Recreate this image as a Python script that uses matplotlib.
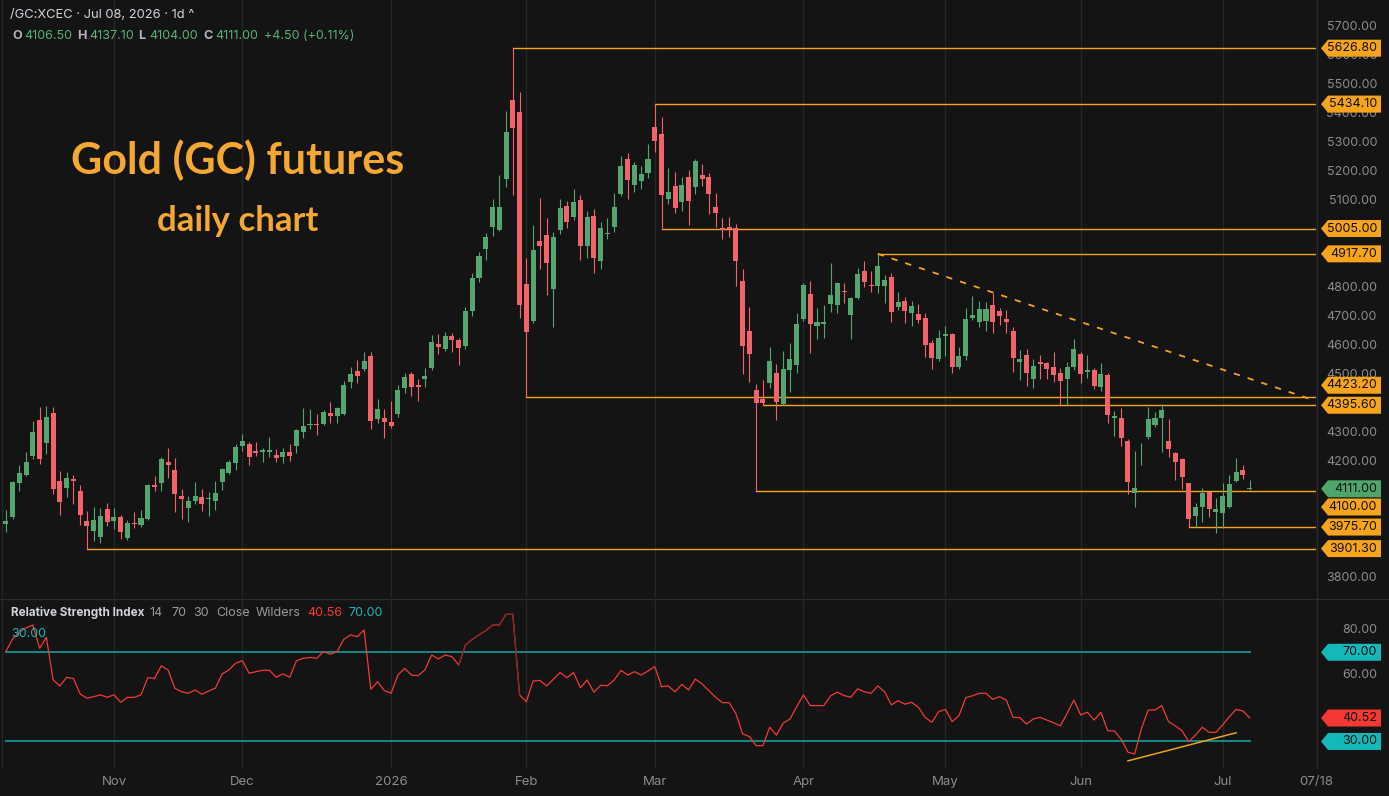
import numpy as np
import matplotlib
matplotlib.use("Agg")
import matplotlib.pyplot as plt
from matplotlib.patches import Polygon
from matplotlib.lines import Line2D

plt.rcParams["font.family"] = ["Inter", "DejaVu Sans"]

W, H = 1389, 796
BG = "#141414"
UP, DN = "#52a66e", "#f2636a"
ORANGE = "#f5a41c"
TEAL, TEAL_TAG = "#138b8b", "#14b8b8"

# ---- daily OHLC, Oct 2025 .. Jul 08 2026 (index = trading day) ----
opens = [3986, 4012, 4128, 4156, 4222, 4345, 4267, 4368, 4135, 4111, 4141, 4100, 3998, 3963, 3940, 4037,
         3998, 4012, 3937, 3991, 3983, 4003, 4121, 4128, 4201, 4172, 4083, 4043, 4066, 4078, 4073, 4066,
         4130, 4163, 4196, 4255, 4262, 4239, 4233, 4236, 4224, 4216, 4233, 4256, 4305, 4327, 4331, 4330,
         4369, 4360, 4366, 4477, 4514, 4520, 4566, 4347, 4351, 4337, 4366, 4454, 4503, 4466, 4486, 4525,
         4607, 4589, 4634, 4620, 4600, 4720, 4833, 4934, 5009, 5000, 5175, 5448, 5408, 4814, 4687, 4962,
         4983, 4797, 5000, 5083, 5044, 5103, 4946, 5048, 4894, 4987, 5011, 5124, 5245, 5155, 5170, 5198,
         5356, 5331, 5107, 5152, 5096, 5182, 5149, 5190, 5182, 5080, 5006, 5009, 5006, 4824, 4652, 4448,
         4417, 4471, 4506, 4400, 4517, 4534, 4693, 4779, 4670, 4675, 4744, 4741, 4789, 4707, 4767, 4860,
         4810, 4808, 4808, 4839, 4733, 4756, 4713, 4710, 4696, 4609, 4554, 4633, 4641, 4529, 4566, 4698,
         4681, 4687, 4741, 4721, 4693, 4652, 4544, 4569, 4485, 4544, 4540, 4529, 4506, 4485, 4527, 4572,
         4510, 4517, 4458, 4500, 4351, 4351, 4273, 4092, 4233, 4285, 4328, 4351, 4273, 4230, 4209, 4126,
         4015, 4044, 4096, 4029, 4023, 4046, 4136, 4172, 4106.5]
highs = [4034, 4135, 4189, 4233, 4342, 4389, 4394, 4389, 4170, 4167, 4155, 4121, 4031, 4044, 4040, 4058,
         4040, 4017, 4000, 4026, 4034, 4124, 4152, 4216, 4247, 4213, 4106, 4083, 4130, 4107, 4098, 4136,
         4178, 4206, 4261, 4297, 4270, 4270, 4249, 4287, 4245, 4247, 4263, 4314, 4385, 4381, 4366, 4379,
         4407, 4388, 4480, 4527, 4552, 4580, 4578, 4417, 4383, 4411, 4466, 4506, 4509, 4486, 4523, 4638,
         4641, 4649, 4644, 4626, 4735, 4850, 4925, 4989, 5106, 5190, 5411, 5626.8, 5477, 4902, 5017, 5111,
         5042, 4992, 5107, 5100, 5142, 5121, 5066, 5072, 5029, 5040, 5127, 5255, 5267, 5236, 5219, 5297,
         5434.1, 5389, 5215, 5199, 5182, 5207, 5245, 5227, 5196, 5129, 5040, 5046, 5020, 4866, 4736, 4470,
         4483, 4598, 4538, 4583, 4609, 4715, 4818, 4824, 4730, 4741, 4885, 4822, 4818, 4770, 4868, 4893,
         4859, 4917.7, 4845, 4851, 4787, 4768, 4755, 4744, 4715, 4621, 4655, 4669, 4646, 4596, 4730, 4773,
         4756, 4753, 4782, 4730, 4724, 4667, 4586, 4590, 4555, 4569, 4546, 4580, 4523, 4544, 4624, 4580,
         4569, 4523, 4540, 4506, 4376, 4385, 4278, 4238, 4265, 4389, 4373, 4400, 4348, 4236, 4213, 4128,
         4058, 4109, 4098, 4075, 4126, 4155, 4213, 4190, 4137.1]
lows = [3960, 4005, 4101, 4150, 4210, 4193, 4227, 4090, 4017, 4078, 4054, 3983, 3901.3, 3928, 3922, 3980,
        3969, 3934, 3931, 3971, 3977, 4000, 4100, 4101, 4146, 4029, 4003, 3994, 4054, 4032, 4015, 4034,
        4103, 4160, 4172, 4238, 4190, 4222, 4201, 4218, 4201, 4196, 4204, 4230, 4284, 4313, 4293, 4327,
        4334, 4334, 4363, 4454, 4471, 4515, 4313, 4336, 4281, 4316, 4354, 4437, 4429, 4411, 4460, 4517,
        4572, 4584, 4580, 4535, 4590, 4705, 4820, 4897, 4979, 4998, 5149, 5121, 4696, 4423.2, 4680, 4864,
        4776, 4667, 4985, 5008, 5035, 4897, 4905, 4851, 4864, 4968, 4994, 5117, 5106, 5132, 5140, 5180,
        5270, 5005, 5090, 5058, 5067, 5017, 5124, 5152, 5055, 5011, 4968, 4975, 4807, 4502, 4477, 4100,
        4395.6, 4456, 4345, 4397, 4443, 4508, 4686, 4577, 4623, 4629, 4718, 4715, 4749, 4623, 4761, 4805,
        4787, 4782, 4749, 4682, 4724, 4678, 4670, 4678, 4563, 4520, 4548, 4566, 4508, 4520, 4552, 4690,
        4667, 4653, 4644, 4672, 4646, 4512, 4483, 4463, 4454, 4485, 4485, 4477, 4397, 4395, 4517, 4474,
        4489, 4451, 4446, 4334, 4290, 4256, 4089, 4044, 4188, 4279, 4322, 4236, 4218, 4138, 4106, 3975.7,
        3977, 3994, 4012, 3954, 3971, 4040, 4132, 4140, 4104]
closes = [3998, 4131, 4161, 4199, 4302, 4210, 4356, 4106, 4063, 4144, 4135, 4017, 3980, 4000, 4014, 3994,
          4012, 3958, 3991, 3987, 4008, 4121, 4114, 4210, 4190, 4090, 4072, 4066, 4081, 4055, 4077, 4093,
          4176, 4199, 4253, 4273, 4218, 4230, 4241, 4241, 4215, 4233, 4222, 4310, 4325, 4332, 4328, 4371,
          4360, 4385, 4466, 4503, 4498, 4549, 4340, 4383, 4339, 4325, 4448, 4494, 4460, 4457, 4498, 4613,
          4596, 4634, 4621, 4592, 4720, 4833, 4910, 4977, 5080, 5080, 5337, 5351, 4741, 4649, 4931, 4946,
          4887, 4977, 5077, 5027, 5096, 4945, 5044, 4902, 5008, 4990, 5078, 5222, 5172, 5224, 5192, 5245,
          5308, 5121, 5130, 5075, 5154, 5101, 5238, 5176, 5123, 5058, 5000, 5003, 4894, 4601, 4571, 4405,
          4405, 4549, 4406, 4521, 4555, 4676, 4810, 4676, 4682, 4682, 4776, 4816, 4785, 4767, 4848, 4820,
          4806, 4877, 4827, 4716, 4753, 4721, 4738, 4690, 4604, 4558, 4627, 4640, 4529, 4566, 4692, 4707,
          4727, 4727, 4684, 4705, 4682, 4560, 4555, 4508, 4532, 4538, 4520, 4500, 4479, 4529, 4590, 4503,
          4517, 4463, 4503, 4362, 4360, 4284, 4130, 4112, 4236, 4348, 4353, 4379, 4244, 4201, 4147, 4004,
          4044, 4092, 4037, 4037, 4081, 4124, 4165, 4155, 4111]

# RSI(14) Wilders on close
rsi = [70.3, 76, 79, 81, 82.2, 71.8, 76.7, 57.6, 54.9, 58.8, 58.2, 51.3, 49.4, 50.1, 50.9, 49.8,
       50.9, 47.6, 49.8, 49.8, 50.9, 58.6, 58.3, 63.9, 62.1, 53.9, 52.3, 51.6, 53.1, 51.2, 52.6, 53.9,
       60.3, 62.1, 65.1, 66.2, 60.6, 61.3, 61.9, 61.9, 58.8, 60.3, 58.8, 66.2, 67.3, 67.7, 67.3, 70.3,
       69.1, 70.3, 75.8, 77.8, 77, 80, 53.4, 56.8, 52.8, 51.6, 59.8, 62.8, 59.8, 59.5, 62.1, 68.8,
       67, 68.8, 68, 64.3, 73.3, 75.8, 77.8, 79.7, 82.2, 82.2, 87, 87, 50.9, 47.8, 57.1, 57.4,
       54.9, 57.9, 60.9, 58.6, 60.9, 54.1, 57.6, 52.1, 55.2, 55, 57.6, 61.9, 59.8, 61.3, 59.8, 61.6,
       63.6, 54.6, 54.9, 52.3, 55.6, 53.1, 58, 55.8, 52.8, 49.8, 47.4, 47.4, 42.6, 33.4, 32.2, 28.1,
       28.1, 36.4, 32.9, 38.2, 40.1, 45.6, 50.9, 46.1, 46.1, 46.1, 50.4, 52.1, 50.6, 49.8, 53.6, 52.3,
       51.6, 54.9, 52.3, 46.4, 48.3, 46.7, 47.6, 45.3, 40.8, 38.6, 43.4, 44.4, 38.9, 41.6, 49.6, 50.5,
       51.6, 51.6, 48.9, 50.1, 48.6, 40.8, 40.7, 37.8, 40.1, 40.8, 39.6, 38.4, 37, 42.6, 48.6, 41.9,
       43.1, 39.6, 43.1, 34.8, 34.7, 31, 25.2, 24.4, 35.9, 44.1, 44.1, 46.1, 38.9, 37, 34.8, 29.9,
       32.9, 36.4, 34.1, 34.1, 37.4, 41.1, 44.4, 43.7, 40.6]

month_labels = ["Nov", "Dec", "2026", "Feb", "Mar", "Apr", "May", "Jun", "Jul"]
month_idx = [16, 35, 57, 77, 96, 118, 139, 159, 180]

# horizontal levels: (price, first bar index)
levels = [5626.8, 5434.1, 5005.0, 4917.7, 4423.2, 4395.6, 4100.0, 3975.7, 3901.3]
level_start = [75, 96, 97, 129, 77, 112, 111, 175, 12]
trend_idx, trend_px = [129, 194], [4917.7, 4409]
rsi_trend_idx, rsi_trend_val = [166, 182], [21.3, 33.9]
last_close, rsi_last = 4111.00, 40.52

n = len(closes)
idx = np.arange(n)
o, h, l, c = map(np.array, (opens, highs, lows, closes))

fig = plt.figure(figsize=(W / 100, H / 100), dpi=100, facecolor=BG)

def fx(x): return x / W
def fy(y): return 1 - y / H

PANE_R = 1316
ax = fig.add_axes([0, fy(598), fx(PANE_R), 598 / H])
axr = fig.add_axes([0, fy(768), fx(PANE_R), (768 - 600) / H])
for a in (ax, axr):
    a.set_facecolor(BG)
    for s in a.spines.values():
        s.set_visible(False)
    a.set_xticks([]); a.set_yticks([])
    a.set_xlim((0 - 5.8) / 6.76, (PANE_R - 5.8) / 6.76)
    for m in month_idx + [-0.6]:
        a.axvline(m, color="#262626", lw=1, zorder=0)
ax.set_ylim(3731, 5793)
axr.set_ylim(18.1, 93.45)

# candles
up = c >= o
cols = np.where(up, UP, DN)
ax.vlines(idx, l, h, colors=cols, lw=0.8, zorder=3)
body_lo = np.minimum(o, c)
body_h = np.maximum(np.abs(c - o), 3.0)
ax.bar(idx, body_h, bottom=body_lo, width=0.74, color=cols, linewidth=0, zorder=4)

# levels and trend line
for p, s in zip(levels, level_start):
    ax.plot([s, 300], [p, p], color=ORANGE, lw=1.0, zorder=2)
ax.plot(trend_idx, trend_px, color=ORANGE, lw=1.3, ls=(0, (3.5, 4.5)), zorder=2)

# RSI pane
axr.plot([0, n - 1], [70, 70], color=TEAL, lw=1.4, zorder=2)
axr.plot([0, n - 1], [30, 30], color=TEAL, lw=1.4, zorder=2)
axr.plot(idx, rsi, color="#f23a36", lw=0.9, zorder=3)
axr.plot(idx[67:77], rsi[67:77], color="#7c2626", lw=0.9, zorder=3)
axr.plot(rsi_trend_idx, rsi_trend_val, color="#e8a317", lw=1.1, zorder=3)

# separators
fig.add_artist(Line2D([0, 1], [fy(598.5)] * 2, color="#2b2b2b", lw=1))
fig.add_artist(Line2D([fx(PANE_R + 0.5)] * 2, [fy(768), 1], color="#2b2b2b", lw=1))

# price tags (pointed labels on the scale)
nudges = {4423.2: -12, 4100.0: 16}
tag_list = [(ax, p, f"{p:.2f}", ORANGE, nudges.get(p, 0)) for p in levels]
tag_list.append((ax, last_close, f"{last_close:.2f}", "#4ea66b", 1))
tag_list += [(axr, 70, "70.00", TEAL_TAG, 0), (axr, rsi_last, f"{rsi_last:.2f}", "#f23a32", 0),
             (axr, 30, "30.00", TEAL_TAG, 0)]
tag_y = [a.transData.transform((0, v))[1] - nd for a, v, _, _, nd in tag_list]

# price scale labels (those fully hidden under a tag are skipped)
def scale_label(a, v):
    yd = a.transData.transform((0, v))[1]
    if min(abs(yd - t) for t in tag_y) < 7.6:
        return
    fig.text(fx(1377), yd / H, f"{v:.2f}", ha="right", va="center", fontsize=9, color="#8c8c8c")

for p in range(3800, 5701, 100):
    scale_label(ax, p)
for v in (80, 60):
    scale_label(axr, v)

for (a, v, txt, fc, nd), yc in zip(tag_list, tag_y):
    hh = 8.5
    pts = [(1321, yc), (1328, yc + hh), (1381, yc + hh), (1381, yc - hh), (1328, yc - hh)]
    fig.add_artist(Polygon([(x / W, y / H) for x, y in pts], closed=True, transform=fig.transFigure,
                           facecolor=fc, edgecolor="none", zorder=10))
    fig.text(fx(1377), yc / H, txt, ha="right", va="center", fontsize=9, color="#111111", zorder=11)

# time axis
for lab, m in zip(month_labels, month_idx):
    xd = ax.transData.transform((m, 0))[0]
    fig.text(xd / W, fy(782), lab, ha="center", va="center", fontsize=9.5, color="#8c8c8c")
fig.text(fx(PANE_R), fy(782), "07/18", ha="center", va="center", fontsize=9.5, color="#8c8c8c")

# header
fig.text(fx(10), fy(15), "/GC:XCEC · Jul 08, 2026 · 1d ^", ha="left", va="center",
         fontsize=9.3, color="#d1d4dc")
GRN, GRY = "#5cb176", "#b2b5be"
for txt, x, col in [("O", 12, GRY), ("4106.50", 24, GRN), ("H", 77, GRY), ("4137.10", 89, GRN),
                    ("L", 138, GRY), ("4104.00", 149, GRN), ("C", 203, GRY), ("4111.00", 215, GRN),
                    ("+4.50 (+0.11%)", 264, GRN)]:
    fig.text(fx(x), fy(36), txt, ha="left", va="center", fontsize=9, color=col,
             fontweight="bold" if col == GRY else "normal")

fig.text(fx(11), fy(613), "Relative Strength Index", ha="left", va="center", fontsize=8.4,
         color="#d1d4dc", fontweight="bold")
for txt, x, col in [("14", 149, "#9a9a9a"), ("70", 171, "#9a9a9a"), ("30", 193, "#9a9a9a"),
                    ("Close", 216, "#9a9a9a"), ("Wilders", 256, "#9a9a9a"),
                    ("40.56", 307, "#f23a36"), ("70.00", 348, TEAL_TAG)]:
    fig.text(fx(x), fy(613), txt, ha="left", va="center", fontsize=9, color=col)
fig.text(fx(11), fy(634), "30.00", ha="left", va="center", fontsize=9, color=TEAL_TAG)

# annotation
fig.text(fx(238), fy(160), "Gold (GC) futures", ha="center", va="center", fontsize=31,
         fontweight="bold", color="#f5a733", family=["Lato", "DejaVu Sans"])
fig.text(fx(238), fy(221), "daily chart", ha="center", va="center", fontsize=25,
         fontweight="bold", color="#f5a733", family=["Lato", "DejaVu Sans"])

fig.savefig("out.png", dpi=100, facecolor=BG)
